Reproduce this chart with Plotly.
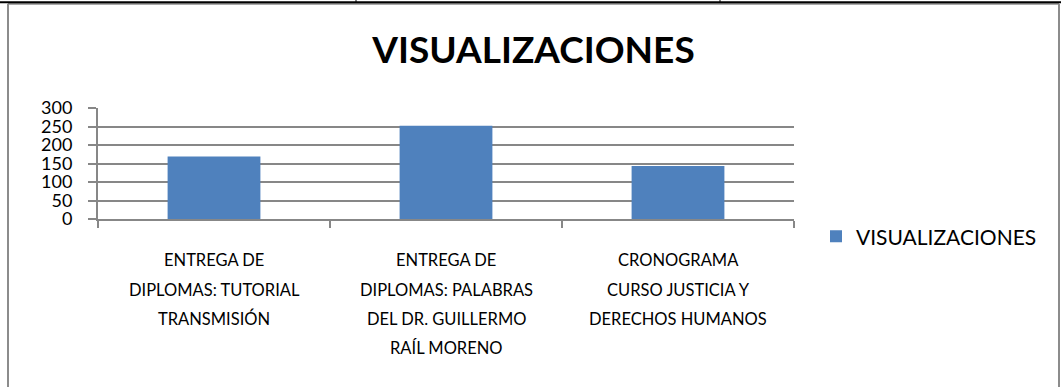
import plotly.graph_objects as go

# Data
categories = [
    "ENTREGA DE DIPLOMAS: TUTORIAL TRANSMISIÓN",
    "ENTREGA DE DIPLOMAS: PALABRAS DEL DR. GUILLERMO RAÍL MORENO",
    "CRONOGRAMA CURSO JUSTICIA Y DERECHOS HUMANOS",
]
category_lines = [
    ["ENTREGA DE", "DIPLOMAS: TUTORIAL", "TRANSMISIÓN"],
    ["ENTREGA DE", "DIPLOMAS: PALABRAS", "DEL DR. GUILLERMO", "RAÍL MORENO"],
    ["CRONOGRAMA", "CURSO JUSTICIA Y", "DERECHOS HUMANOS"],
]
visualizaciones = [169, 252, 143]
series_name = "VISUALIZACIONES"
chart_title = "VISUALIZACIONES"
y_ticks = [0, 50, 100, 150, 200, 250, 300]

W, H = 1061, 387
PLOT_L, PLOT_R = 98, 794
PLOT_T, PLOT_B = 108.3, 219.3
FONT = "Lato"
GRID = "#878787"
BAR = "#4F81BD"


def px_x(px):
    return (px - PLOT_L) / (PLOT_R - PLOT_L)


def px_y(py):
    return (PLOT_B - py) / (PLOT_B - PLOT_T)


fig = go.Figure()
fig.add_trace(go.Bar(
    x=categories,
    y=visualizaciones,
    name=series_name,
    marker=dict(color=BAR, line=dict(width=0)),
    showlegend=True,
))

# multi-line category labels under each bar
annotations = []
for cat, lines in zip(categories, category_lines):
    for i, line in enumerate(lines):
        annotations.append(dict(
            x=cat, xref="x", y=0, yref="paper",
            text=line, showarrow=False,
            xanchor="center", yanchor="middle",
            yshift=-41.4 - 29.2 * i,
            font=dict(family=FONT, size=16.5, color="#000000"),
        ))

# chart frame
frame = dict(color="#8C8C8C", width=2)
shapes = [
    dict(type="line", xref="paper", yref="paper",
         x0=px_x(8), x1=px_x(8), y0=px_y(4), y1=px_y(400), line=frame),
    dict(type="line", xref="paper", yref="paper",
         x0=px_x(1059), x1=px_x(1059), y0=px_y(4), y1=px_y(400), line=frame),
    dict(type="line", xref="paper", yref="paper",
         x0=px_x(8), x1=px_x(1059), y0=px_y(4), y1=px_y(4), line=frame),
    dict(type="line", xref="paper", yref="paper",
         x0=px_x(0), x1=px_x(1061), y0=px_y(2.5), y1=px_y(2.5),
         line=dict(color="#000000", width=2)),
    dict(type="line", xref="paper", yref="paper",
         x0=px_x(356), x1=px_x(356), y0=px_y(0), y1=px_y(3),
         line=dict(color="#000000", width=1)),
    dict(type="line", xref="paper", yref="paper",
         x0=px_x(720), x1=px_x(720), y0=px_y(0), y1=px_y(3),
         line=dict(color="#000000", width=1)),
]

fig.update_layout(
    width=W, height=H,
    margin=dict(l=PLOT_L, r=W - PLOT_R, t=PLOT_T, b=H - PLOT_B, autoexpand=False),
    paper_bgcolor="#FFFFFF",
    plot_bgcolor="#FFFFFF",
    bargap=0.6,
    title=dict(
        text=f"<b>{chart_title}</b>",
        xref="container", yref="container",
        x=533.5 / W, y=1 - 50 / H,
        xanchor="center", yanchor="middle",
        font=dict(family=FONT, size=37, color="#000000"),
    ),
    xaxis=dict(
        showgrid=False,
        showline=True, linecolor=GRID, linewidth=2,
        ticks="outside", tickson="boundaries", ticklen=7,
        tickcolor=GRID, tickwidth=2,
        showticklabels=False,
        fixedrange=True,
    ),
    yaxis=dict(
        range=[0, 300],
        tickvals=y_ticks,
        showgrid=True, gridcolor=GRID, gridwidth=2,
        showline=True, linecolor=GRID, linewidth=2,
        ticks="outside", ticklen=8, tickcolor=GRID, tickwidth=2,
        ticklabelstandoff=12,
        tickfont=dict(family=FONT, size=18, color="#000000"),
        zeroline=False,
        fixedrange=True,
    ),
    legend=dict(
        x=px_x(816), xanchor="left",
        y=px_y(237), yanchor="middle",
        font=dict(family=FONT, size=21, color="#000000"),
        bgcolor="rgba(0,0,0,0)",
    ),
    annotations=annotations,
    shapes=shapes,
)

fig.write_html("out.html")
